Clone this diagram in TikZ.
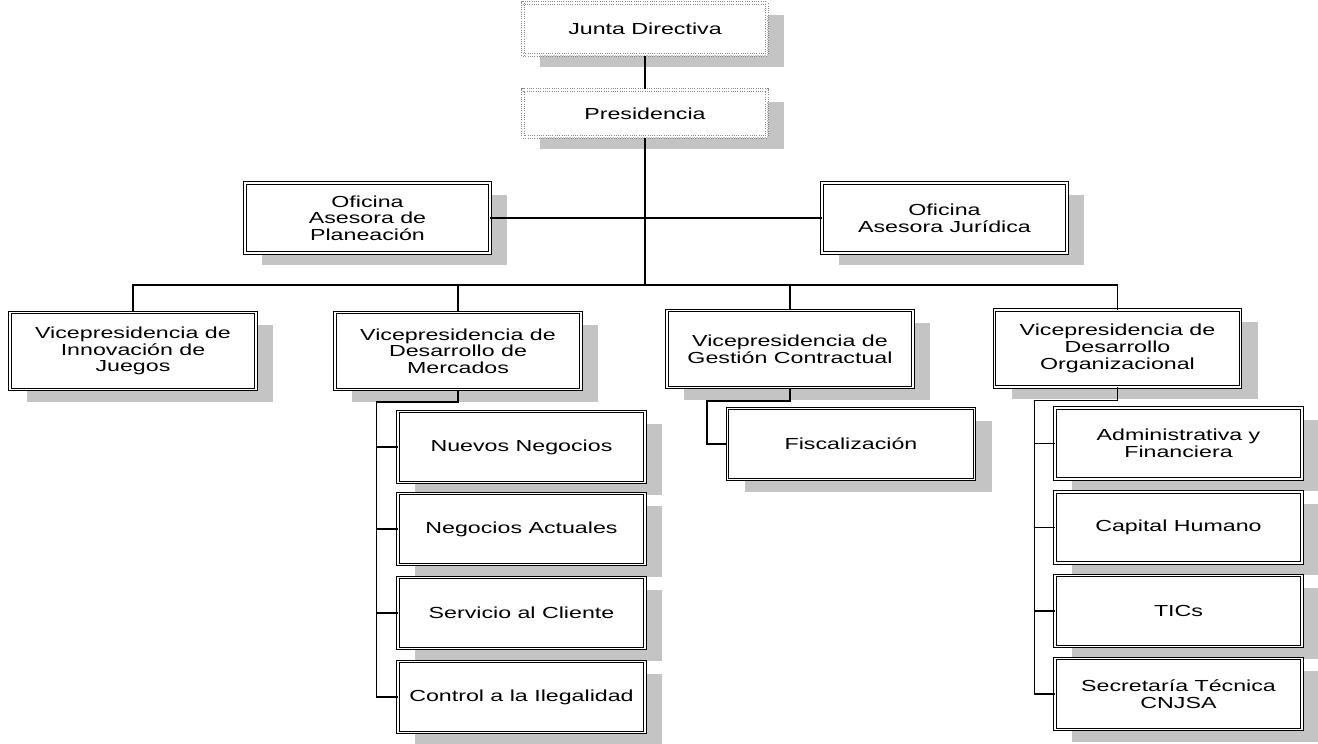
\documentclass[tikz,border=0pt]{standalone}
\usepackage{fontspec}
\setmainfont{Liberation Sans}[FakeStretch=1.45]
\usetikzlibrary{calc, shadows}
\definecolor{sh}{HTML}{c4c4c4}
\definecolor{gb}{HTML}{8a8a8a}
\tikzset{
    caja/.style={draw=black, fill=white, double=white, double distance=1.2pt, line width=0.7pt,
        align=center, inner sep=1pt, font=\fontsize{12}{12.5}\selectfont,
        drop shadow={shadow xshift=13pt, shadow yshift=-9pt, fill=sh, opacity=1}},
    cajap/.style={caja, draw=gb, densely dotted, line width=1pt, double distance=0.8pt},
    vice/.style={caja, minimum width=184.5pt, minimum height=57.75pt},
    sub/.style={caja, minimum width=185.25pt, minimum height=53.25pt},
    linea/.style={draw=black, line width=0.9pt}
}
\begin{document}
\begin{tikzpicture}[x=0.75pt, y=-0.75pt]
    \useasboundingbox (0,0) rectangle (1318,743);

    % direccion
    \node[cajap, minimum width=183pt, minimum height=39pt] (jd) at (645,29) {Junta Directiva};
    \node[cajap, minimum width=183pt, minimum height=35.25pt] (pr) at (645,113.5) {Presidencia};
    \node[caja, minimum width=183.75pt, minimum height=52.5pt] (oap) at (367.5,218) {Oficina\\Asesora de\\Planeación};
    \node[caja, minimum width=183.75pt, minimum height=52.5pt] (oaj) at (944.5,218) {Oficina\\Asesora Jurídica};

    % vicepresidencias
    \node[vice] (vin) at (133,351) {Vicepresidencia de\\Innovación de\\Juegos};
    \node[vice] (vdm) at (458,351) {Vicepresidencia de\\Desarrollo de\\Mercados};
    \node[vice] (vgc) at (790,349) {Vicepresidencia de\\Gestión Contractual};
    \node[vice] (vdo) at (1117.5,348.5) {Vicepresidencia de\\Desarrollo\\Organizacional};

    % gerencias
    \node[sub] (nn) at (521.5,447) {Nuevos Negocios};
    \node[sub] (na) at (521.5,529) {Negocios Actuales};
    \node[sub] (sc) at (521.5,613) {Servicio al Cliente};
    \node[sub] (ci) at (521.5,697) {Control a la Ilegalidad};
    \node[sub] (fi) at (851,444) {Fiscalización};
    \node[sub] (af) at (1178.5,443.5) {Administrativa y\\Financiera};
    \node[sub] (ch) at (1178.5,527.5) {Capital Humano};
    \node[sub] (ti) at (1178.5,611) {TICs};
    \node[sub] (st) at (1178.5,694) {Secretaría Técnica\\CNJSA};

    \coordinate (bus) at (646,285);

    \draw[linea] (jd.south) -- (pr.north);
    \draw[linea] (pr.south) -- (pr.south |- bus);
    \draw[linea] (oap.east) -- (oaj.west);
    \draw[linea] (vin.north) -- (vin.north |- bus) -- (vdo.north |- bus) -- (vdo.north);
    \draw[linea] (vdm.north) -- (vdm.north |- bus);
    \draw[linea] (vgc.north) -- (vgc.north |- bus);

    \draw[linea] (vdm.south) -- ++(0,12) -| ($(ci.west)+(-21,0)$) -- (ci.west);
    \foreach \n in {nn,na,sc}
        \draw[linea] (\n.west) -- ++(-21,0);
    \draw[linea] (vgc.south) -- ++(0,13) -| ($(fi.west)+(-20,0)$) -- (fi.west);
    \draw[linea] (vdo.south) -- ++(0,13) -| ($(st.west)+(-20,0)$) -- (st.west);
    \foreach \n in {af,ch,ti}
        \draw[linea] (\n.west) -- ++(-20,0);
\end{tikzpicture}
\end{document}
